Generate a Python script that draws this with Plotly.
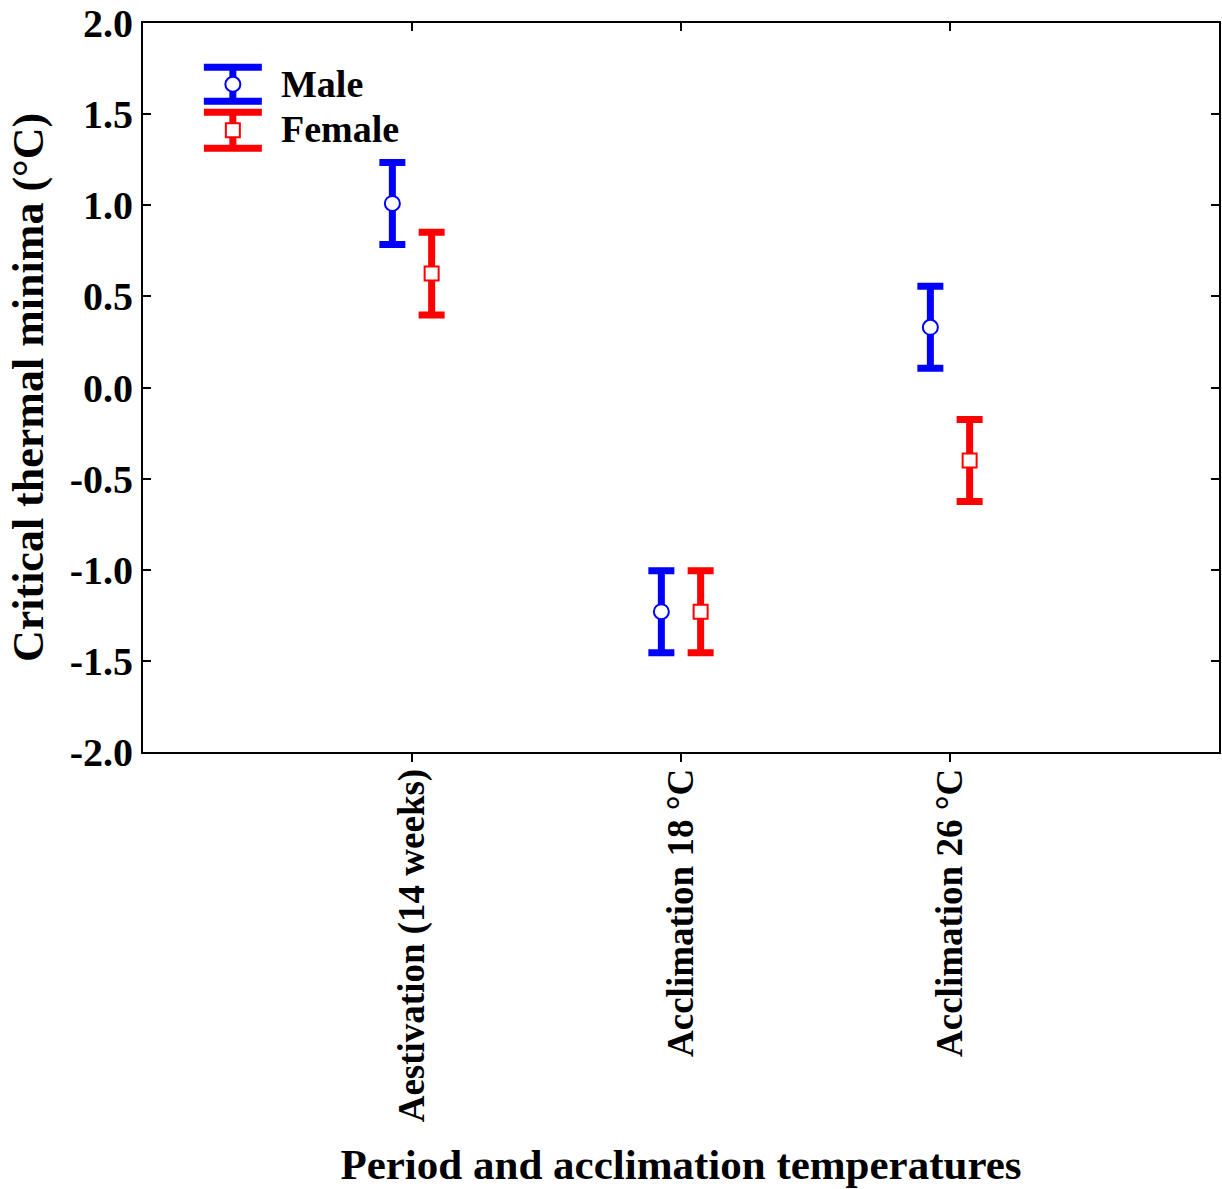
import plotly.graph_objects as go

categories = ["Aestivation (14 weeks)", "Acclimation 18 °C", "Acclimation 26 °C"]
male_mean = [1.01, -1.23, 0.33]
male_err = [0.225, 0.225, 0.225]
female_mean = [0.625, -1.23, -0.40]
female_err = [0.227, 0.225, 0.225]
ytick_vals = [-2.0, -1.5, -1.0, -0.5, 0.0, 0.5, 1.0, 1.5, 2.0]
ytick_text = ["-2.0", "-1.5", "-1.0", "-0.5", "0.0", "0.5", "1.0", "1.5", "2.0"]

FONT = "Liberation Serif, Times New Roman, serif"
BLUE = "#0000ff"
RED = "#ff0000"
offset = 0.073
xpos = [1, 2, 3]

fig = go.Figure()

fig.add_trace(go.Scatter(
    x=[p - offset for p in xpos], y=male_mean, mode="markers", name="Male",
    marker=dict(symbol="circle", size=15, color="white", line=dict(color=BLUE, width=2)),
    error_y=dict(type="data", array=male_err, color=BLUE, thickness=7, width=13),
    showlegend=False))
fig.add_trace(go.Scatter(
    x=[p + offset for p in xpos], y=female_mean, mode="markers", name="Female",
    marker=dict(symbol="square", size=14, color="white", line=dict(color=RED, width=2)),
    error_y=dict(type="data", array=female_err, color=RED, thickness=7, width=13),
    showlegend=False))

# invisible trace to activate top axis (mirrored inside ticks)
fig.add_trace(go.Scatter(x=[None], y=[None], xaxis="x2", yaxis="y", showlegend=False, hoverinfo="skip"))

# custom legend glyphs on a hidden overlay axis (paper-like units)
leg_x = 0.0835
fig.add_trace(go.Scatter(
    x=[leg_x], y=[0.916], xaxis="x3", yaxis="y3", mode="markers", showlegend=False, hoverinfo="skip",
    marker=dict(symbol="circle", size=15, color="white", line=dict(color=BLUE, width=2)),
    error_y=dict(type="constant", value=0.0233, color=BLUE, thickness=7, width=29)))
fig.add_trace(go.Scatter(
    x=[leg_x], y=[0.853], xaxis="x3", yaxis="y3", mode="markers", showlegend=False, hoverinfo="skip",
    marker=dict(symbol="square", size=14, color="white", line=dict(color=RED, width=2)),
    error_y=dict(type="constant", value=0.0247, color=RED, thickness=7, width=29)))

fig.add_annotation(x=0.126, y=0.917, xref="x3", yref="y3", text="Male", showarrow=False,
                   xanchor="left", yanchor="middle", font=dict(family=FONT, size=38, color="black", weight="bold"))
fig.add_annotation(x=0.126, y=0.854, xref="x3", yref="y3", text="Female", showarrow=False,
                   xanchor="left", yanchor="middle", font=dict(family=FONT, size=38, color="black", weight="bold"))

fig.update_layout(
    width=1222, height=1189,
    margin=dict(l=143, r=1, t=22, b=437),
    plot_bgcolor="rgba(0,0,0,0)", paper_bgcolor="white",
    font=dict(family=FONT, color="black"),
    showlegend=False,
    xaxis=dict(range=[0, 4], tickvals=xpos, ticktext=categories, tickangle=-90,
               ticks="outside", ticklen=8, tickwidth=2, tickcolor="black",
               ticklabelstandoff=-8,
               showline=True, linecolor="black", linewidth=2, mirror=True,
               showgrid=False, zeroline=False,
               tickfont=dict(family=FONT, size=37, color="black", weight="bold"),
               title=dict(text="Period and acclimation temperatures", standoff=28,
                          font=dict(family=FONT, size=43, color="black", weight="bold"))),
    xaxis2=dict(range=[0, 4], overlaying="x", side="top", anchor="y", tickvals=xpos,
                ticks="inside", ticklen=8, tickwidth=2, tickcolor="black",
                showticklabels=False, showline=False, showgrid=False, zeroline=False),
    yaxis=dict(range=[-2, 2], tickvals=ytick_vals, ticktext=ytick_text,
               ticks="inside", ticklen=8, tickwidth=2, tickcolor="black",
               showline=True, linecolor="black", linewidth=2, mirror="ticks",
               showgrid=False, zeroline=False,
               tickfont=dict(family=FONT, size=40, color="black", weight="bold"),
               title=dict(text="Critical thermal minima (°C)", standoff=12,
                          font=dict(family=FONT, size=44, color="black", weight="bold"))),
    xaxis3=dict(domain=[0, 1], range=[0, 1], anchor="y3", visible=False, fixedrange=True),
    yaxis3=dict(domain=[0, 1], range=[0, 1], anchor="x3", visible=False, fixedrange=True),
)

fig.write_html("out.html")
